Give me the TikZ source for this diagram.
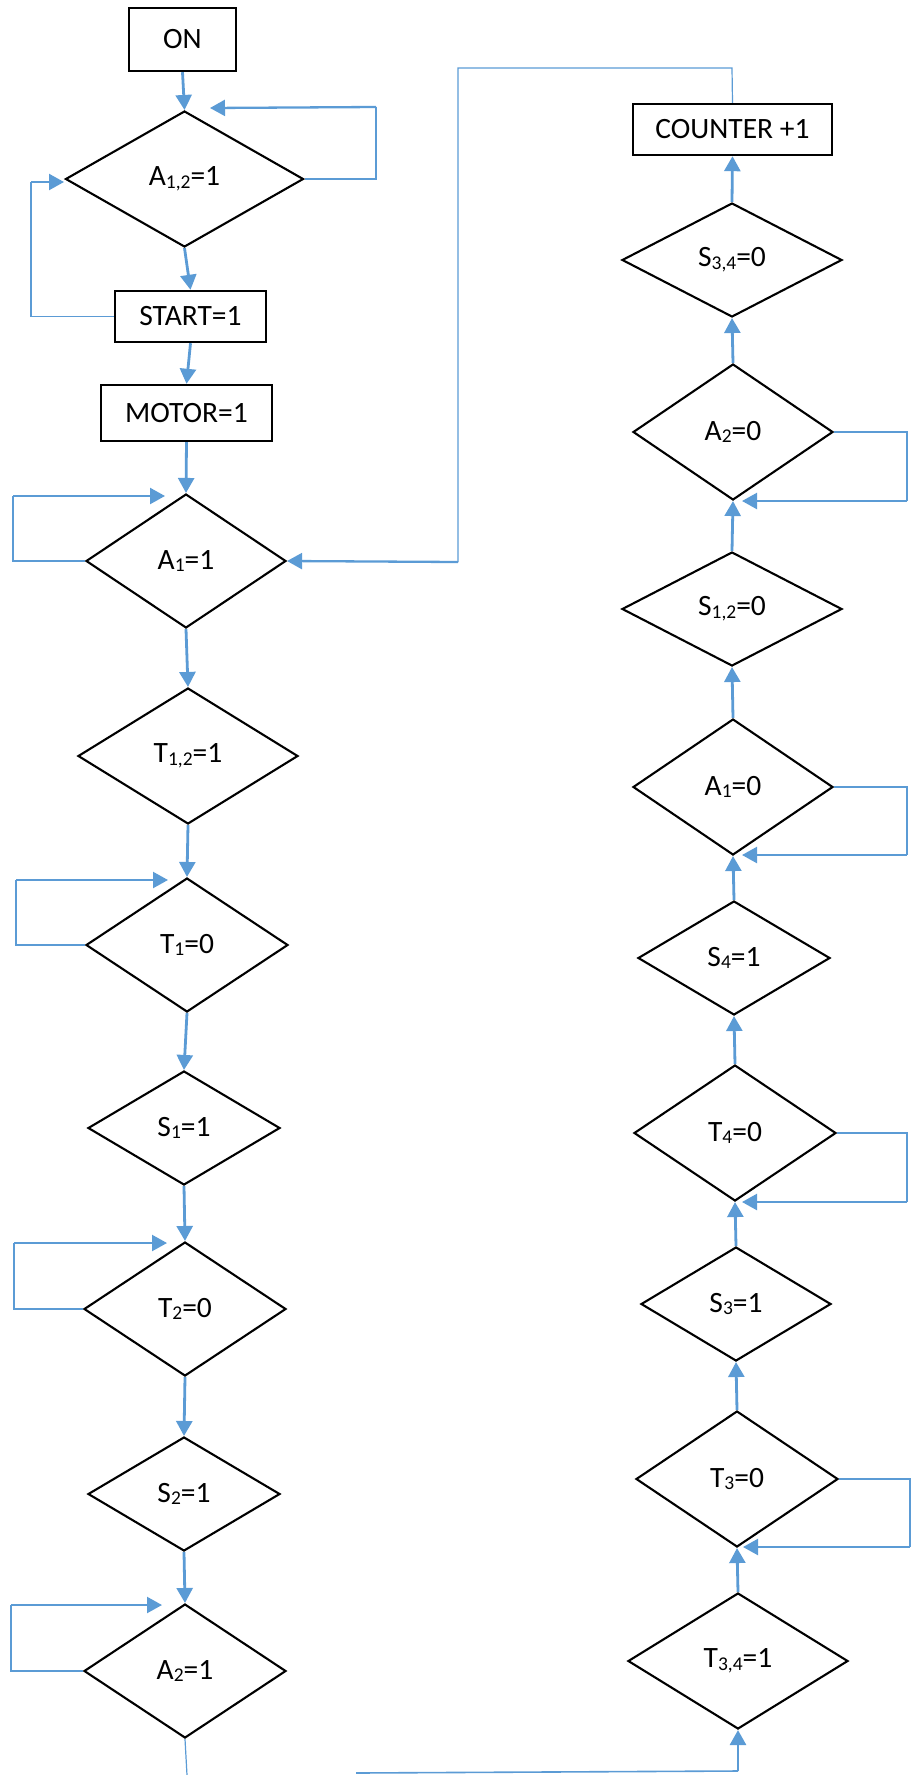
\documentclass[tikz,border=0pt]{standalone}
\usepackage{fontspec}
\setmainfont{Carlito}
\usetikzlibrary{shapes.geometric,arrows.meta}
\definecolor{fb}{HTML}{5B9BD5}
\newcommand{\sbs}[1]{\raisebox{-2.8pt}{\fontsize{19.5}{19.5}\selectfont #1}}
\begin{document}
\begin{tikzpicture}[x=1pt,y=-1pt,
  box/.style={draw=black,line width=2.4pt,rectangle,inner sep=0pt,font=\fontsize{29.5}{31}\selectfont},
  dia/.style={draw=black,line width=2.1pt,diamond,inner sep=0pt,font=\fontsize{29.5}{31}\selectfont},
  flow/.style={draw=fb,line width=2.8pt,-{Triangle[length=15pt,width=16pt]}},
  thinline/.style={draw=fb,line width=1.2pt},
  loopar/.style={draw=fb,line width=2.3pt,-{Triangle[length=15pt,width=16pt]}}
]
\useasboundingbox (0,0) rectangle (914,1775);

% ---- left column
\node[box,minimum width=107pt,minimum height=63pt] (on) at (182.5,39.5) {ON};
\node[dia,minimum width=238pt,minimum height=136pt,aspect=1.75] (a12) at (184.5,179) {A\sbs{1,2}=1};
\node[box,minimum width=151pt,minimum height=51pt] (start) at (190.5,316.5) {\raisebox{-3pt}{START=1}};
\node[box,minimum width=171pt,minimum height=56pt] (motor) at (186.5,413) {\raisebox{-2pt}{MOTOR=1}};
\node[dia,minimum width=200pt,minimum height=134pt,aspect=1.49] (a1) at (186,561) {A\sbs{1}=1};
\node[dia,minimum width=220pt,minimum height=136pt,aspect=1.62] (t12) at (188,756) {T\sbs{1,2}=1};
\node[dia,minimum width=202pt,minimum height=134pt,aspect=1.5] (t1) at (187,945) {T\sbs{1}=0};
\node[dia,minimum width=192pt,minimum height=114pt,aspect=1.68] (s1) at (184,1128) {S\sbs{1}=1};
\node[dia,minimum width=202pt,minimum height=134pt,aspect=1.5] (t2) at (185,1309) {T\sbs{2}=0};
\node[dia,minimum width=192pt,minimum height=114pt,aspect=1.68] (s2) at (184,1494) {S\sbs{2}=1};
\node[dia,minimum width=202pt,minimum height=134pt,aspect=1.5] (a2) at (185,1671) {A\sbs{2}=1};

% ---- right column
\node[box,minimum width=199pt,minimum height=51pt] (counter) at (732.5,129.5) {\raisebox{-3pt}{COUNTER +1}};
\node[dia,minimum width=220pt,minimum height=114pt,aspect=1.93] (s34) at (732,260) {S\sbs{3,4}=0};
\node[dia,minimum width=200pt,minimum height=136pt,aspect=1.47] (a20) at (733,432) {A\sbs{2}=0};
\node[dia,minimum width=220pt,minimum height=114pt,aspect=1.93] (s12) at (732,609) {S\sbs{1,2}=0};
\node[dia,minimum width=200pt,minimum height=136pt,aspect=1.47] (a10) at (733,787) {A\sbs{1}=0};
\node[dia,minimum width=192pt,minimum height=114pt,aspect=1.68] (s4) at (734,958) {S\sbs{4}=1};
\node[dia,minimum width=202pt,minimum height=136pt,aspect=1.49] (t4) at (735,1133) {T\sbs{4}=0};
\node[dia,minimum width=190pt,minimum height=114pt,aspect=1.67] (s3) at (736,1304) {S\sbs{3}=1};
\node[dia,minimum width=202pt,minimum height=136pt,aspect=1.49] (t3) at (737,1479) {T\sbs{3}=0};
\node[dia,minimum width=220pt,minimum height=136pt,aspect=1.62] (t34) at (738,1661) {T\sbs{3,4}=1};

% ---- coordinates for free ends
\coordinate (r12c) at (376,107);  \coordinate (r12t) at (210,108);
\coordinate (stc) at (31,182);    \coordinate (stt) at (64,182);
\coordinate (a1c) at (13,496);    \coordinate (a1t) at (165,496);
\coordinate (t1c) at (16,880);    \coordinate (t1t) at (168,880);
\coordinate (t2c) at (14,1243);   \coordinate (t2t) at (167,1243);
\coordinate (a2c) at (11,1605);   \coordinate (a2t) at (162,1605);
\coordinate (a20c) at (907,501);  \coordinate (a20t) at (742,501);
\coordinate (a10c) at (907,855);  \coordinate (a10t) at (742,855);
\coordinate (t4c) at (907,1202);  \coordinate (t4t) at (742,1202);
\coordinate (t3c) at (910,1547);  \coordinate (t3t) at (743,1547);
\coordinate (k1) at (732,68);     \coordinate (k2) at (458,68);  \coordinate (k3) at (458,562);
\coordinate (b1) at (187,1775);   \coordinate (b2) at (356,1773); \coordinate (b3) at (738,1771);

% ---- main flow, left column
\draw[flow] (on.south) -- (a12.north);
\draw[flow] (a12.south) -- (start.north);
\draw[flow] (start.south) -- (motor.north);
\draw[flow] (motor.south) -- (a1.north);
\draw[flow] (a1.south) -- (t12.north);
\draw[flow] (t12.south) -- (t1.north);
\draw[flow] (t1.south) -- (s1.north);
\draw[flow] (s1.south) -- (t2.north);
\draw[flow] (t2.south) -- (s2.north);
\draw[flow] (s2.south) -- (a2.north);
\draw[thinline] (a2.south) -- (b1);

% ---- main flow, right column (upwards)
\draw[thinline,line width=1.6pt] (b2) -- (b3);
\draw[flow] (b3) -- (t34.south);
\draw[flow] (t34.north) -- (t3.south);
\draw[flow] (t3.north) -- (s3.south);
\draw[flow] (s3.north) -- (t4.south);
\draw[flow] (t4.north) -- (s4.south);
\draw[flow] (s4.north) -- (a10.south);
\draw[flow] (a10.north) -- (s12.south);
\draw[flow] (s12.north) -- (a20.south);
\draw[flow] (a20.north) -- (s34.south);
\draw[flow] (s34.north) -- (counter.south);

% ---- return from COUNTER to A1
\draw[thinline] (counter.north) -- (k1) -- (k2) -- (k3);
\draw[loopar] (k3) -- (a1.east);

% ---- loops, left column
\draw[thinline] (a12.east) -| (r12c);
\draw[loopar] (r12c) -- (r12t);
\draw[thinline] (start.west) -| (stc);
\draw[loopar] (stc) -- (stt);
\draw[thinline] (a1.west) -| (a1c);
\draw[loopar] (a1c) -- (a1t);
\draw[thinline] (t1.west) -| (t1c);
\draw[loopar] (t1c) -- (t1t);
\draw[thinline] (t2.west) -| (t2c);
\draw[loopar] (t2c) -- (t2t);
\draw[thinline] (a2.west) -| (a2c);
\draw[loopar] (a2c) -- (a2t);

% ---- loops, right column
\draw[thinline] (a20.east) -| (a20c);
\draw[loopar] (a20c) -- (a20t);
\draw[thinline] (a10.east) -| (a10c);
\draw[loopar] (a10c) -- (a10t);
\draw[thinline] (t4.east) -| (t4c);
\draw[loopar] (t4c) -- (t4t);
\draw[thinline] (t3.east) -| (t3c);
\draw[loopar] (t3c) -- (t3t);
\end{tikzpicture}
\end{document}
